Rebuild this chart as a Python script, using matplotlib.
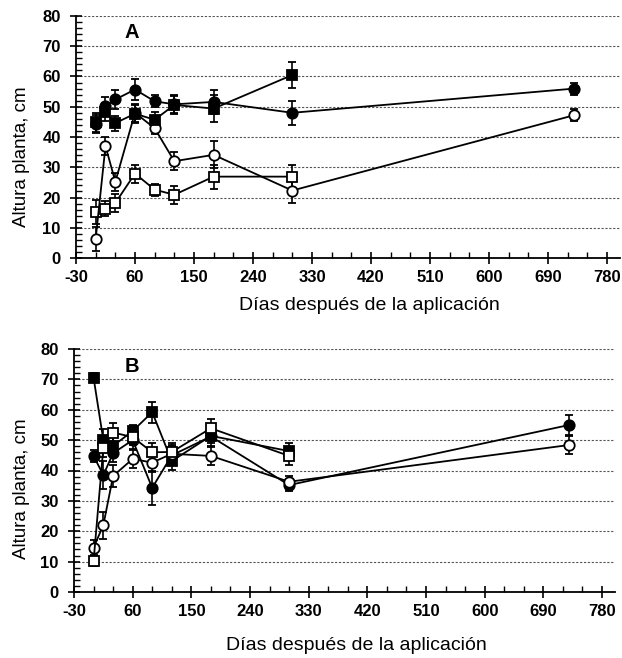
import matplotlib
matplotlib.use("Agg")
import matplotlib.pyplot as plt
from matplotlib.ticker import MultipleLocator

plt.rcParams['font.family'] = ['Liberation Sans', 'DejaVu Sans']
plt.rcParams['axes.unicode_minus'] = False

# Panel A
dias_a = [0, 15, 30, 60, 90, 120, 180, 300, 730]
dias_a_sq = [0, 15, 30, 60, 90, 120, 180, 300]
a_circ_lleno = [44.2, 50.2, 52.4, 55.7, 51.8, 50.8, 51.6, 48.0, 56.0]
a_circ_lleno_err = [3, 3, 3, 3.5, 2, 3, 4, 4, 2]
a_cuad_lleno = [44.8, 48.3, 44.6, 47.7, 45.7, 50.6, 49.4, 60.5]
a_cuad_lleno_err = [3, 3, 2.5, 3, 2.5, 3, 4.5, 4.3]
a_circ_vacio = [6.3, 37.0, 25.2, 48.0, 42.9, 32.0, 34.1, 22.3, 47.2]
a_circ_vacio_err = [4, 3, 3, 3, 2, 3, 4.5, 4, 2]
a_cuad_vacio = [15.2, 16.3, 18.2, 27.9, 22.6, 20.9, 26.9, 26.9]
a_cuad_vacio_err = [4, 2.5, 3, 3, 2, 3, 4, 4]

# Panel B
dias_b = [0, 15, 30, 60, 90, 120, 180, 300, 730]
dias_b_sq = [0, 15, 30, 60, 90, 120, 180, 300]
b_cuad_lleno = [70.6, 50.0, 48.1, 53.0, 59.2, 43.1, 51.4, 46.4]
b_cuad_lleno_err = [1.5, 3.5, 3, 2, 3.5, 3, 2.5, 2.5]
b_circ_lleno = [44.8, 38.5, 45.7, 50.0, 34.3, 45.0, 51.2, 35.2, 55.0]
b_circ_lleno_err = [2, 4.5, 3, 3, 5.5, 3, 3, 2, 3.3]
b_cuad_vacio = [10.1, 47.5, 52.5, 51.0, 46.0, 46.1, 53.9, 44.8]
b_cuad_vacio_err = [1.5, 3, 3, 2.5, 3, 3, 3, 3]
b_circ_vacio = [14.6, 22.0, 38.2, 43.8, 42.6, 45.5, 44.8, 36.3, 48.4]
b_circ_vacio_err = [2.5, 4.5, 3.5, 3, 3, 3, 3, 2, 3]

xticks = [-30, 60, 150, 240, 330, 420, 510, 600, 690, 780]

W, H = 622, 658


def serie(ax, x, y, err, marker, fill):
    ax.errorbar(x, y, yerr=err, color='black', lw=1.3, marker=marker, ms=7.5 if marker == 'o' else 7,
                mfc=fill, mec='black', mew=1.3, capsize=3, elinewidth=1.2, capthick=1.2, zorder=3)


def formato(fig, ax, letra, letra_pos, ylab_pos, xlab_pos):
    ax.set_xlim(-30, 800)
    ax.set_ylim(0, 80)
    ax.set_xticks(xticks)
    ax.xaxis.set_minor_locator(MultipleLocator(30))
    ax.yaxis.set_major_locator(MultipleLocator(10))
    ax.yaxis.set_minor_locator(MultipleLocator(2))
    for s in ['top', 'right']:
        ax.spines[s].set_visible(False)
    for s in ['left', 'bottom']:
        ax.spines[s].set_linewidth(1.3)
    ax.tick_params(which='major', direction='inout', length=8, width=1.2, labelsize=12)
    ax.tick_params(axis='y', which='major', pad=7)
    ax.tick_params(axis='x', which='major', pad=5)
    ax.tick_params(which='minor', direction='in', length=4, width=1.0)
    for lab in ax.get_xticklabels() + ax.get_yticklabels():
        lab.set_fontweight('bold')
    ax.yaxis.grid(True, which='major', ls=(0, (2, 1.5)), lw=0.8, color='#555555')
    ax.set_axisbelow(True)
    ax.set_ylabel('Altura planta, cm', fontsize=13.5, va='center')
    ax.yaxis.set_label_coords(ylab_pos[0] / W, 1 - ylab_pos[1] / H, transform=fig.transFigure)
    ax.set_xlabel('Días después de la aplicación', fontsize=14, va='center')
    ax.xaxis.set_label_coords(xlab_pos[0] / W, 1 - xlab_pos[1] / H, transform=fig.transFigure)
    fig.text(letra_pos[0] / W, 1 - letra_pos[1] / H, letra, fontsize=14.5, fontweight='bold',
             ha='center', va='center')


fig = plt.figure(figsize=(6.22, 6.58), dpi=100)
ax1 = fig.add_axes([76 / W, 1 - 258 / H, (620 - 76) / W, (258 - 16) / H])
ax2 = fig.add_axes([74 / W, 1 - 592 / H, (615 - 74) / W, (592 - 349) / H])

serie(ax1, dias_a_sq, a_cuad_vacio, a_cuad_vacio_err, 's', 'white')
serie(ax1, dias_a, a_circ_vacio, a_circ_vacio_err, 'o', 'white')
serie(ax1, dias_a_sq, a_cuad_lleno, a_cuad_lleno_err, 's', 'black')
serie(ax1, dias_a, a_circ_lleno, a_circ_lleno_err, 'o', 'black')
formato(fig, ax1, 'A', (132, 33), (22, 157), (369, 306))

serie(ax2, dias_b, b_circ_lleno, b_circ_lleno_err, 'o', 'black')
serie(ax2, dias_b_sq, b_cuad_lleno, b_cuad_lleno_err, 's', 'black')
serie(ax2, dias_b, b_circ_vacio, b_circ_vacio_err, 'o', 'white')
serie(ax2, dias_b_sq, b_cuad_vacio, b_cuad_vacio_err, 's', 'white')
formato(fig, ax2, 'B', (132, 366), (22, 489), (356, 645))

fig.savefig('out.png', dpi=100)
